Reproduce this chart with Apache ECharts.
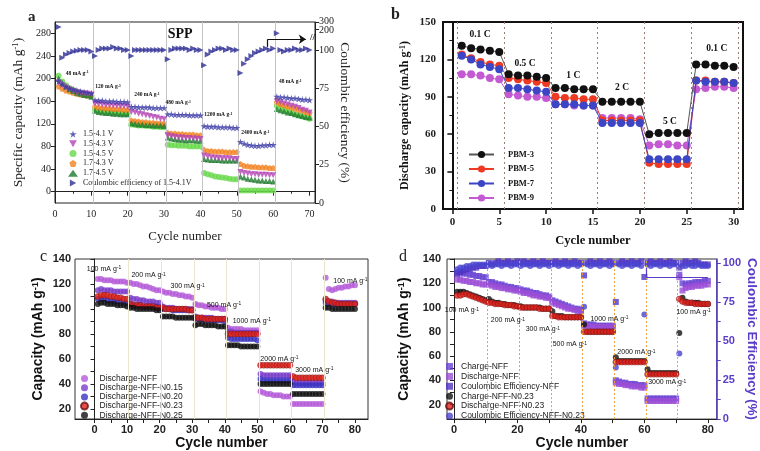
<!DOCTYPE html>
<html>
<head>
<meta charset="utf-8">
<script src="https://cdn.jsdelivr.net/npm/echarts@6/dist/echarts.min.js"></script>
<style>html,body{margin:0;background:#fff}#main{width:760px;height:451px}</style>
</head>
<body>
<div id="main"></div>
<script>
// ---------- panel a : SPP, voltage windows ----------
var a_41 = [195,190,186,183,181,179,177,176,175,174, 162,161,161,160,160,160,159,159,159,158, 150,150,149,149,149,149,148,148,148,148, 137,137,136,136,136,136,135,135,135,135, 116,115,115,115,114,114,114,114,113,113, 88,85,83,82,81,81,82,82,83,83, 168,167,167,166,165,165,164,163,163,162];
var a_43 = [193,188,184,181,178,176,175,174,173,172, 156,155,154,153,153,152,152,151,151,150, 141,140,138,137,135,134,132,131,129,128, 100,98,97,96,96,95,95,94,94,93, 64,62,61,60,60,59,59,59,58,58, 35,33,32,31,31,30,30,30,29,29, 160,158,156,154,152,150,148,145,143,140];
var a_45 = [205,195,188,183,180,177,175,173,171,170, 145,143,142,141,140,140,139,139,138,138, 119,118,117,117,116,116,115,115,114,114, 83,82,82,81,81,81,80,80,80,80, 33,31,29,27,26,25,24,23,22,22, 2,2,2,2,2,2,2,2,2,2, 152,148,145,142,139,137,135,133,131,129];
var a_1743 = [186,182,179,177,175,173,172,171,170,169, 150,149,148,147,147,146,146,146,145,145, 126,125,124,123,123,122,122,121,121,120, 104,103,103,102,102,101,101,101,100,100, 74,72,72,71,71,71,70,70,70,70, 49,46,45,44,44,43,43,43,42,42, 158,155,153,151,149,147,145,143,141,139];
var a_1745 = [200,192,186,181,178,175,173,171,170,168, 143,141,140,139,139,138,138,137,137,137, 121,120,119,119,118,118,117,117,117,116, 96,94,93,92,92,91,91,91,90,90, 58,57,56,56,56,55,55,55,55,55, 27,25,23,22,21,20,20,19,19,18, 146,144,142,140,139,137,135,134,132,131];
// coulombic efficiency, plotted positions on the broken right axis (first point sits in the 100-300 part)
var a_ce = [115,95,97,98,99,99.5,100,100,100,99, 96,100,101,101,101,102,101,101,100,100, 96,100,100,100,100,100,100,100,100,100, 94,100,101,101,101,101,100,101,100,100, 90,97,99,100,101,101,100,101,100,100, 85,91,94,96,98,99,100,101,100,101, 111,100,99,100,100,101,100,100,101,100];
var a_names = ['1.5-4.1 V','1.5-4.3 V','1.5-4.5 V','1.7-4.3 V','1.7-4.5 V','Coulombic efficiency of 1.5-4.1V'];
var a_rates = [[6.1,209,'48 mA g'],[14.6,185,'120 mA g'],[25.3,171,'240 mA g'],[33.9,157,'480 mA g'],[44.9,135.5,'1200 mA g'],[55.1,104,'2400 mA g'],[64.7,194,'48 mA g']];
var a_title = [[34.4,110,'SPP']];
var a_ceTicks = [0, 25, 50, 75, 100];

// ---------- panel b : PBM ----------
var b_3 = [131,129,128,127,126, 108,107,107,106,105, 97,97,96,96,96, 86,86,86,86,86, 60,61,61,61,61, 116,116,115,115,114];
var b_5 = [124,121,118,116,115, 105,104,103,102,101, 90,89,89,88,88, 71,71,71,71,71, 37,36,36,36,36, 103,103,102,102,101];
var b_7 = [123,120,116,114,112, 97,97,96,95,94, 84,84,84,83,83, 69,69,69,69,69, 40,40,40,40,40, 103,102,102,102,101];
var b_9 = [108,108,107,105,104, 92,91,90,90,89, 84,84,83,83,83, 73,73,73,73,72, 51,52,52,51,51, 96,97,98,98,97];
var b_names = ['PBM-3','PBM-5','PBM-7','PBM-9'];
var b_rates = [[2.95,139.6,'0.1 C'],[7.75,116.9,'0.5 C'],[12.9,106.7,'1 C'],[18.1,97.3,'2 C'],[23.2,70,'5 C'],[28.2,128.9,'0.1 C']];

// ---------- panel c : NFF doping ----------
var c_nff = [124,124,123,123,123,122,122,122,122,121, 121,120,120,119,118,118,117,116,115,115, 114,113,113,112,112,111,111,110,110,109, 104,103,103,102,102,101,101,101,100,100, 85,84,84,84,84,83,83,83,83,83, 34,33,32,32,31,31,31,30,30,30, 24,24,24,24,24,24,24,24,24,24, 125,116,115,116,117,117,118,118,119,119];
var c_015 = [115,116,115,115,115,114,114,114,114,114, 109,108,108,107,107,106,106,106,105,105, 102,101,101,101,100,100,100,100,100,100, 94,93,93,93,93,93,92,92,92,92, 82,82,81,81,81,81,81,81,81,81, 48,47,47,47,47,47,47,47,47,47, 42,41,41,41,41,41,41,41,41,41, 107,106,106,105,105,105,105,105,105,105];
var c_020 = [108,108,108,107,107,106,106,106,105,105, 104,103,103,103,102,102,102,102,102,101, 100,100,100,99,99,99,99,99,99,99, 92,92,92,91,91,91,91,91,91,90, 77,76,76,76,76,76,76,76,76,75, 44,43,43,43,43,43,43,43,43,43, 39,39,39,39,39,39,39,39,39,39, 105,104,104,104,104,104,104,104,104,104];
var c_023 = [110,111,111,111,110,110,109,109,108,108, 104,103,103,103,102,102,102,102,101,101, 101,100,100,100,100,100,100,100,99,99, 93,93,93,92,92,92,92,92,92,92, 80,80,80,80,80,80,80,80,80,80, 55,55,55,55,55,55,55,55,55,55, 46,45,45,45,45,45,45,45,45,45, 108,106,105,105,104,104,104,104,104,104];
var c_025 = [104,105,105,104,104,104,103,103,103,102, 101,101,100,100,100,100,100,100,99,99, 94,94,94,94,93,93,93,93,93,93, 87,88,88,87,87,87,87,86,86,86, 71,71,71,71,70,70,70,70,70,70, 40,40,40,40,40,40,40,40,40,40, 32,32,32,32,32,32,32,32,32,32, 101,101,100,100,100,100,100,100,100,100];
var c_names = ['Discharge-NFF','Discharge-NFF-N0.15','Discharge-NFF-N0.20','Discharge-NFF-N0.23','Discharge-NFF-N0.25'];
var c_rates = [[2.9,132,'100 mA g'],[16.6,127,'200 mA g'],[28.6,118,'300 mA g'],[39.8,103.5,'500 mA g'],[48.3,90.5,'1000 mA g'],[56.8,60.3,'2000 mA g'],[67.5,51.2,'3000 mA g'],[78.6,122.5,'100 mA g']];

// ---------- panel d : NFF vs NFF-N0.23 ----------
var d_chg = [129,129,128,128,127,127,126,126,125,125, 121,121,120,119,119,118,117,117,116,116, 115,114,114,113,112,112,111,110,110,109, 106,105,104,103,102,101,100,99,99,98, 87,86,86,86,85,85,85,85,85,85, 40,39,38,38,37,37,37,36,36,36, 25,25,25,25,25,25,25,25,25,25, 127,120,119,120,120,121,121,121,122,122];
var d_dis = [123,123,122,122,121,121,120,120,119,119, 119,118,117,117,116,116,115,115,114,114, 113,112,112,111,110,110,109,109,108,108, 104,103,102,101,100,99,99,98,97,97, 85,85,84,84,84,84,84,84,84,84, 38,37,37,36,36,35,35,35,34,34, 23,23,23,23,23,23,23,23,23,23, 125,114,116,117,117,118,118,118,119,119];
var d_ce = [93,94,95,96,96,97,97,98,98,98, 100,99,100,101,100,100,101,100,100,101, 100,101,100,100,101,100,100,101,100,100, 100,101,100,100,101,100,100,101,100,100, 92,100,101,100,100,101,100,100,101,100, 75,100,101,100,100,101,100,100,101,91, 100,101,100,100,101,100,100,101,100,100, 97,100,101,100,100,101,100,99,99,99];
var d_chg23 = [113,113,113,112,111,110,109,108,107,106, 107,105,104,104,103,103,102,102,102,101, 101,100,100,100,100,100,100,99,99,99, 97,93,93,93,92,92,92,92,92,92, 86,80,80,80,80,80,80,80,80,80, 59,56,56,56,56,56,56,56,56,56, 49,46,46,46,46,46,46,46,46,46, 79,108,105,104,104,104,104,103,103,103];
var d_dis23 = [110,110,111,111,110,109,108,107,106,105, 104,104,103,103,103,102,102,102,101,101, 100,100,100,100,100,100,99,99,99,99, 93,93,92,92,92,92,92,92,92,92, 80,80,80,80,80,80,80,80,80,80, 55,55,55,55,55,55,55,55,55,55, 45,45,45,45,45,45,45,45,45,45, 107,105,104,104,104,103,103,103,103,103];
var d_ce23 = [96,97,97,98,98,99,99,99,99,99, 99,98,99,99,98,99,99,98,99,99, 98,99,99,98,99,99,98,99,99,98, 99,99,98,99,99,98,99,99,98,99, 72,99,98,99,99,98,99,99,98,99, 33,99,98,99,99,98,99,99,98,67, 99,98,99,99,98,99,99,98,99,99, 42,98,98,99,98,98,99,98,98,98];
var d_names = ['Charge-NFF','Discharge-NFF\u200b','Coulombic Efficiency-NFF','Charge-NFF-N0.23','Discharge-NFF-N0.23\u200b','Coulombic Efficiency-NFF-N0.23'];
var d_rates = [[2.5,97.5,'100 mA g'],[17,89.5,'200 mA g'],[28,82,'300 mA g'],[36.5,69.5,'500 mA g'],[49,90.5,'1000 mA g'],[57.5,63,'2000 mA g'],[67.2,38.4,'3000 mA g'],[75.5,96.5,'100 mA g']];

var SERIF = 'Liberation Serif', SANS = 'Liberation Sans';
var VIOLET = '#5a3cc8';

function pts(arr) { return arr.map(function (v, i) { return [i + 1, v]; }); }

function vlines(xs, style) {
    return { silent: true, symbol: ['none', 'none'], label: { show: false }, lineStyle: style,
        data: xs.map(function (x) { return { xAxis: x }; }) };
}

function notes(list, font, size, weight, sup) {
    return {
        silent: true, symbol: 'rect', symbolSize: 1, itemStyle: { color: 'rgba(0,0,0,0)' },
        label: {
            show: true, position: 'inside', color: '#111',
            formatter: function (p) { return sup ? '{t|' + p.name + '}{s|-1}' : '{t|' + p.name + '}'; },
            rich: {
                t: { fontFamily: font, fontSize: size, fontWeight: weight, color: '#111' },
                s: { fontFamily: font, fontSize: size * 0.7, fontWeight: weight, color: '#111', verticalAlign: 'top' }
            }
        },
        data: list.map(function (n) { return { coord: [n[0], n[1]], name: n[2] }; })
    };
}

function supName(txt, font, size, weight, color) {
    return {
        text: '{n|' + txt + '}{s|-1}{n|)}',
        style: {
            rich: {
                n: { fontFamily: font, fontSize: size, fontWeight: weight, color: color },
                s: { fontFamily: font, fontSize: size * 0.65, fontWeight: weight, color: color, verticalAlign: 'top' }
            }
        }
    };
}

var aY = supName('Specific capacity (mAh g', SERIF, 13.5, 'normal', '#222');
var bY = supName('Discharge capacity (mAh g', SERIF, 12, 'bold', '#111');
var cY = supName('Capacity (mAh g', SANS, 14, 'bold', '#111');

var STAR = 'path://M50,0 L61,35 L98,35 L68,57 L79,91 L50,70 L21,91 L32,57 L2,35 L39,35 Z';
var TRI_DOWN = 'path://M0,0 L10,0 L5,9 Z';
var TRI_RIGHT = 'path://M0,0 L9,5 L0,10 Z';
var PENTA = 'path://M50,0 L98,35 L79,91 L21,91 L2,35 Z';

function tickAxis(font, size, weight, extra) {
    var o = {
        type: 'value',
        axisLine: { show: true, lineStyle: { color: '#222', width: 1 } },
        axisTick: { show: true, inside: false, length: 4, lineStyle: { color: '#222' } },
        axisLabel: { fontFamily: font, fontSize: size, fontWeight: weight, color: '#222', margin: 4, hideOverlap: false },
        splitLine: { show: false }
    };
    for (var k in extra) {
        if (typeof extra[k] === 'object' && o[k] && !Array.isArray(extra[k])) {
            o[k] = Object.assign({}, o[k], extra[k]);
        } else { o[k] = extra[k]; }
    }
    return o;
}

var myChart = echarts.init(document.getElementById('main'));

var option = {
    backgroundColor: '#fff',
    animation: false,
    grid: [
        { left: 55, top: 22, width: 260, height: 181, show: true, borderColor: '#222', borderWidth: 1 },
        { left: 443, top: 22, width: 300, height: 187, show: true, borderColor: '#111', borderWidth: 2 },
        { left: 75, top: 259, width: 293, height: 160, show: true, borderColor: '#333', borderWidth: 1 },
        { left: 447, top: 259, width: 270, height: 165, show: true, borderColor: '#333', borderWidth: 1 }
    ],
    xAxis: [
        tickAxis(SERIF, 10, 'normal', { gridIndex: 0, min: 0, max: 71.5, interval: 10,
            minorTick: { show: true, splitNumber: 2, length: 2 },
            axisLabel: { margin: 6 },
            name: 'Cycle number', nameLocation: 'middle', nameGap: 27,
            nameTextStyle: { fontFamily: SERIF, fontSize: 13, color: '#222' } }),
        tickAxis(SERIF, 11, 'bold', { gridIndex: 1, min: -1, max: 31,
            axisLine: { lineStyle: { color: '#111', width: 2 } },
            axisTick: { customValues: [0, 5, 10, 15, 20, 25, 30], length: 5, lineStyle: { width: 1.5 } },
            axisLabel: { customValues: [0, 5, 10, 15, 20, 25, 30], margin: 8 },
            name: 'Cycle number', nameLocation: 'middle', nameGap: 25,
            nameTextStyle: { fontFamily: SERIF, fontSize: 12.5, fontWeight: 'bold', color: '#111' } }),
        tickAxis(SANS, 11, 'bold', { gridIndex: 2, min: -6, max: 84,
            axisTick: { customValues: [0, 5, 10, 15, 20, 25, 30, 35, 40, 45, 50, 55, 60, 65, 70, 75, 80], length: 4 },
            axisLabel: { customValues: [0, 10, 20, 30, 40, 50, 60, 70, 80], margin: 5 },
            name: 'Cycle number', nameLocation: 'middle', nameGap: 17,
            nameTextStyle: { fontFamily: SANS, fontSize: 14, fontWeight: 'bold', color: '#111' } }),
        tickAxis(SANS, 11, 'bold', { gridIndex: 3, min: -2.2, max: 82.8,
            axisTick: { customValues: [0, 10, 20, 30, 40, 50, 60, 70, 80], length: 4 },
            axisLabel: { customValues: [0, 20, 40, 60, 80], margin: 5 },
            name: 'Cycle number', nameLocation: 'middle', nameGap: 15,
            nameTextStyle: { fontFamily: SANS, fontSize: 14, fontWeight: 'bold', color: '#111' } })
    ],
    yAxis: [
        tickAxis(SERIF, 10, 'normal', { gridIndex: 0, min: -20, max: 300,
            axisTick: { customValues: [0, 40, 80, 120, 160, 200, 240, 280] },
            axisLabel: { customValues: [0, 40, 80, 120, 160, 200, 240, 280] },
            name: aY.text, nameLocation: 'middle', nameGap: 30, nameTextStyle: aY.style }),
        tickAxis(SERIF, 10, 'normal', { gridIndex: 0, position: 'right', min: 0, max: 118.3,
            axisTick: { customValues: a_ceTicks.concat([113.5, 118]) },
            axisLabel: { customValues: a_ceTicks.concat([116]), lineHeight: 9,
                formatter: function (v) { return v > 110 ? '300\n200' : String(v); } },
            name: 'Coulombic efficiency (%)', nameLocation: 'middle', nameGap: 14, nameRotate: -90,
            nameTextStyle: { fontFamily: SERIF, fontSize: 13.5, color: '#222' } }),
        tickAxis(SERIF, 11, 'bold', { gridIndex: 1, min: 0, max: 150, interval: 30,
            axisLine: { lineStyle: { color: '#111', width: 2 } },
            axisTick: { length: 5, lineStyle: { width: 1.5 } },
            minorTick: { show: true, splitNumber: 2, length: 3 },
            axisLabel: { margin: 7 },
            name: bY.text, nameLocation: 'middle', nameGap: 32, nameTextStyle: bY.style }),
        tickAxis(SANS, 11, 'bold', { gridIndex: 2, min: 12, max: 140,
            axisTick: { customValues: [20, 30, 40, 50, 60, 70, 80, 90, 100, 110, 120, 130, 140], length: 4 },
            axisLabel: { customValues: [20, 40, 60, 80, 100, 120, 140], margin: 4 },
            name: cY.text, nameLocation: 'middle', nameGap: 30, nameTextStyle: cY.style }),
        tickAxis(SANS, 11, 'bold', { gridIndex: 3, min: 8, max: 140,
            axisTick: { customValues: [20, 30, 40, 50, 60, 70, 80, 90, 100, 110, 120, 130, 140], length: 4 },
            axisLabel: { customValues: [20, 40, 60, 80, 100, 120, 140], margin: 6 },
            name: cY.text, nameLocation: 'middle', nameGap: 36, nameTextStyle: cY.style }),
        tickAxis(SANS, 11, 'bold', { gridIndex: 3, position: 'right', min: 0, max: 102.5,
            axisLine: { lineStyle: { color: VIOLET, width: 1.5 } },
            axisTick: { customValues: [0, 12.5, 25, 37.5, 50, 62.5, 75, 87.5, 100], length: 4, lineStyle: { color: VIOLET } },
            axisLabel: { customValues: [0, 25, 50, 75, 100], color: VIOLET, margin: 6 },
            name: 'Coulombic Efficiency (%)', nameLocation: 'middle', nameGap: 28, nameRotate: -90,
            nameTextStyle: { fontFamily: SANS, fontSize: 13.5, fontWeight: 'bold', color: VIOLET } })
    ],
    legend: [
        { orient: 'vertical', left: 68, top: 130, itemWidth: 10, itemHeight: 7, itemGap: 1.8, padding: 0,
          textStyle: { fontFamily: SERIF, fontSize: 8, color: '#222' },
          data: [
              { name: a_names[0], icon: STAR }, { name: a_names[1], icon: TRI_DOWN },
              { name: a_names[2], icon: 'circle' }, { name: a_names[3], icon: PENTA },
              { name: a_names[4], icon: 'triangle' }, { name: a_names[5], icon: TRI_RIGHT }
          ] },
        { orient: 'vertical', left: 468, top: 150, itemWidth: 25, itemHeight: 9, itemGap: 5.5, padding: 0,
          textStyle: { fontFamily: SERIF, fontSize: 8.5, fontWeight: 'bold', color: '#111', padding: [0, 0, 0, 9] }, data: b_names },
        { orient: 'vertical', left: 80, top: 374, itemWidth: 10, itemHeight: 7, itemGap: 0.2, padding: 0, icon: 'circle',
          textStyle: { fontFamily: SANS, fontSize: 8.5, color: '#222', padding: [0, 0, 0, 5] }, data: c_names },
        { orient: 'vertical', left: 445, top: 362, itemWidth: 7, itemHeight: 7, itemGap: 0.9, padding: 0,
          textStyle: { fontFamily: SANS, fontSize: 8.5, color: '#222', padding: [0, 0, 0, 3] }, data: d_names }
    ],
    graphic: [
        { type: 'text', left: 28, top: 10, style: { text: 'a', font: 'bold 15px "Liberation Serif"', fill: '#222' } },
        { type: 'text', left: 391, top: 7, style: { text: 'b', font: 'bold 16px "Liberation Serif"', fill: '#222' } },
        { type: 'text', left: 40, top: 249, style: { text: 'c', font: '16px "Liberation Serif"', fill: '#222' } },
        { type: 'text', left: 399, top: 249, style: { text: 'd', font: '16px "Liberation Serif"', fill: '#222' } },
        { type: 'text', left: 310, top: 33, style: { text: '//', font: 'bold 9px "Liberation Serif"', fill: '#222' } }
    ],
    series: [
        // a
        { name: a_names[0], type: 'scatter', xAxisIndex: 0, yAxisIndex: 0, symbol: STAR, symbolSize: 7,
          itemStyle: { color: '#3b3ba6' }, data: pts(a_41), z: 6,
          markLine: vlines([10.5, 20.5, 30.5, 40.5, 50.5, 60.5], { color: '#c4c4c4', width: 1, type: 'solid' }),
          markPoint: notes(a_rates, SERIF, 5.5, 'bold', true) },
        { name: a_names[1], type: 'scatter', xAxisIndex: 0, yAxisIndex: 0, symbol: TRI_DOWN, symbolSize: 6,
          itemStyle: { color: '#b443b4' }, data: pts(a_43), z: 5 },
        { name: a_names[2], type: 'scatter', xAxisIndex: 0, yAxisIndex: 0, symbol: 'circle', symbolSize: 6,
          itemStyle: { color: '#68d848' }, data: pts(a_45), z: 3 },
        { name: a_names[3], type: 'scatter', xAxisIndex: 0, yAxisIndex: 0, symbol: PENTA, symbolSize: 6,
          itemStyle: { color: '#f2821e' }, data: pts(a_1743), z: 4 },
        { name: a_names[4], type: 'scatter', xAxisIndex: 0, yAxisIndex: 0, symbol: 'triangle', symbolSize: 6,
          itemStyle: { color: '#1f7a2e' }, data: pts(a_1745), z: 4 },
        { name: a_names[5], type: 'scatter', xAxisIndex: 0, yAxisIndex: 1, symbol: TRI_RIGHT, symbolSize: 6,
          itemStyle: { color: '#2e2e96' }, data: pts(a_ce), z: 6,
          markPoint: notes(a_title, SERIF, 14, 'bold', false),
          markLine: { silent: true, label: { show: false }, lineStyle: { color: '#111', width: 1.2, type: 'solid' },
              data: [
                  [{ coord: [58.5, 102], symbol: 'none' }, { coord: [58.5, 107], symbol: 'none' }],
                  [{ coord: [58.5, 107], symbol: 'none' }, { coord: [69, 107], symbol: 'arrow', symbolSize: 7 }]
              ] } },
        // b
        { name: b_names[0], type: 'line', xAxisIndex: 1, yAxisIndex: 2, symbol: 'circle', symbolSize: 8,
          color: '#111', lineStyle: { width: 1, color: '#555' }, data: pts(b_3), z: 6,
          markLine: vlines([0.5, 5.5, 10.5, 15.5, 20.5, 25.5, 30.5], { color: '#9a7f75', width: 1, type: [2, 3] }),
          markPoint: notes(b_rates, SERIF, 9.5, 'bold', false) },
        { name: b_names[1], type: 'line', xAxisIndex: 1, yAxisIndex: 2, symbol: 'circle', symbolSize: 8,
          color: '#ee3a22', lineStyle: { width: 1 }, data: pts(b_5), z: 4 },
        { name: b_names[2], type: 'line', xAxisIndex: 1, yAxisIndex: 2, symbol: 'circle', symbolSize: 8,
          color: '#3c45c4', lineStyle: { width: 1 }, data: pts(b_7), z: 5 },
        { name: b_names[3], type: 'line', xAxisIndex: 1, yAxisIndex: 2, symbol: 'circle', symbolSize: 8,
          color: '#c35ad2', lineStyle: { width: 1 }, data: pts(b_9), z: 3 },
        // c
        { name: c_names[0], type: 'scatter', xAxisIndex: 2, yAxisIndex: 3, symbol: 'circle', symbolSize: 6,
          itemStyle: { color: '#b45ad8' }, data: pts(c_nff),
          markLine: vlines([10.5, 20.5, 30.5, 40.5, 50.5, 60.5, 70.5], { color: '#ece4cc', width: 1, type: 'solid' }),
          markPoint: notes(c_rates, SANS, 7, 'normal', true) },
        { name: c_names[1], type: 'scatter', xAxisIndex: 2, yAxisIndex: 3, symbol: 'circle', symbolSize: 6,
          itemStyle: { color: '#7b3cc9' }, data: pts(c_015) },
        { name: c_names[2], type: 'scatter', xAxisIndex: 2, yAxisIndex: 3, symbol: 'circle', symbolSize: 6,
          itemStyle: { color: '#3b33c2' }, data: pts(c_020) },
        { name: c_names[3], type: 'scatter', xAxisIndex: 2, yAxisIndex: 3, symbol: 'circle', symbolSize: 6,
          itemStyle: { color: '#e4231d', borderColor: '#661111', borderWidth: 0.5 }, data: pts(c_023) },
        { name: c_names[4], type: 'scatter', xAxisIndex: 2, yAxisIndex: 3, symbol: 'circle', symbolSize: 6,
          itemStyle: { color: '#111' }, data: pts(c_025) },
        // d
        { name: d_names[0], type: 'scatter', xAxisIndex: 3, yAxisIndex: 4, symbol: 'rect', symbolSize: 6,
          itemStyle: { color: '#6a44d4' }, data: pts(d_chg),
          markLine: vlines([10.5, 20.5, 30.5, 40.5, 50.5, 60.5, 70.5], { color: '#e8a238', width: 1, type: [2, 2] }),
          markPoint: notes(d_rates, SANS, 7, 'normal', true) },
        { name: d_names[1], type: 'scatter', xAxisIndex: 3, yAxisIndex: 4, symbol: 'rect', symbolSize: 6,
          itemStyle: { color: '#9b4ed6' }, data: pts(d_dis) },
        { name: d_names[2], type: 'scatter', xAxisIndex: 3, yAxisIndex: 5, symbol: 'rect', symbolSize: 6,
          itemStyle: { color: '#4f33c4' }, data: pts(d_ce),
          markLine: { silent: true, label: { show: false }, symbol: ['none', 'none'], lineStyle: { color: VIOLET, width: 1.2, type: 'solid' },
              data: [
                  [{ coord: [60.5, 97] }, { coord: [60.5, 91] }],
                  [{ coord: [60.5, 91] }, { coord: [80, 91] }]
              ] } },
        { name: d_names[3], type: 'scatter', xAxisIndex: 3, yAxisIndex: 4, symbol: 'circle', symbolSize: 6,
          itemStyle: { color: '#111' }, data: pts(d_chg23) },
        { name: d_names[4], type: 'scatter', xAxisIndex: 3, yAxisIndex: 4, symbol: 'circle', symbolSize: 6,
          itemStyle: { color: '#e4231d', borderColor: '#661111', borderWidth: 0.5 }, data: pts(d_dis23) },
        { name: d_names[5], type: 'scatter', xAxisIndex: 3, yAxisIndex: 5, symbol: 'circle', symbolSize: 6,
          itemStyle: { color: '#4a44d0' }, data: pts(d_ce23) }
    ]
};

myChart.setOption(option);
</script>
</body>
</html>
